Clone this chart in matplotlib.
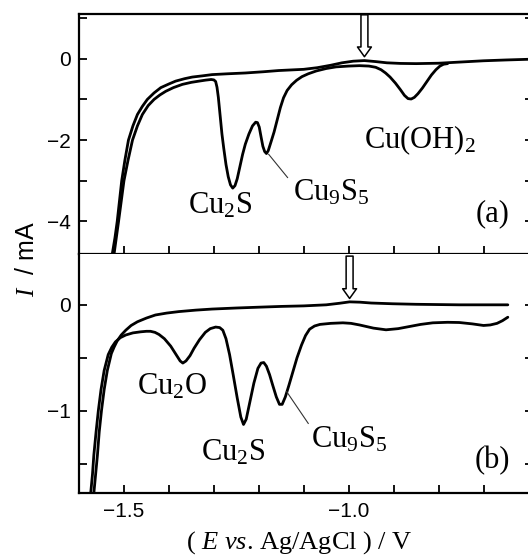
import matplotlib
matplotlib.use('Agg')
import matplotlib.pyplot as plt
from matplotlib.ticker import MultipleLocator

plt.rcParams['font.family'] = 'Liberation Serif'
plt.rcParams['mathtext.fontset'] = 'custom'
plt.rcParams['mathtext.rm'] = 'Liberation Serif'
plt.rcParams['mathtext.it'] = 'Liberation Serif:italic'

# (a) anodic return sweep and cathodic sweep with reduction peaks
E_a_ret = [-1.526, -1.520, -1.515, -1.510, -1.505, -1.498, -1.490, -1.480, -1.470,
           -1.459, -1.448, -1.433, -1.418, -1.400, -1.385, -1.365, -1.348, -1.325,
           -1.304, -1.270, -1.230, -1.190, -1.156, -1.100, -1.070, -1.040, -1.015,
           -0.990, -0.965, -0.940, -0.915, -0.885, -0.850, -0.800, -0.750, -0.700,
           -0.650, -0.590]
I_a_ret = [-4.80, -4.40, -4.00, -3.50, -3.00, -2.50, -2.00, -1.65, -1.37,
           -1.17, -1.00, -0.84, -0.71, -0.62, -0.55, -0.49, -0.45, -0.42,
           -0.39, -0.37, -0.35, -0.32, -0.29, -0.26, -0.22, -0.16, -0.10,
           -0.06, -0.045, -0.07, -0.10, -0.115, -0.12, -0.11, -0.08, -0.05,
           -0.03, -0.01]

E_a_cat = [-1.522, -1.517, -1.512, -1.506, -1.500, -1.491, -1.481, -1.470, -1.459,
           -1.446, -1.433, -1.420, -1.407, -1.390, -1.370, -1.350, -1.333, -1.318,
           -1.306, -1.300, -1.296, -1.293, -1.290, -1.286, -1.282, -1.278, -1.273,
           -1.268, -1.263, -1.258, -1.253, -1.248, -1.242, -1.236, -1.230, -1.222,
           -1.214, -1.207, -1.203, -1.199, -1.195, -1.191, -1.187, -1.183, -1.179,
           -1.173, -1.166, -1.159, -1.152, -1.145, -1.137, -1.127, -1.116, -1.104,
           -1.090, -1.072, -1.050, -1.028, -1.000, -0.976, -0.955, -0.940, -0.928,
           -0.918, -0.908, -0.896, -0.885, -0.876, -0.868, -0.861, -0.854, -0.846,
           -0.836, -0.826, -0.816, -0.806, -0.797, -0.789, -0.780]
I_a_cat = [-4.80, -4.40, -4.00, -3.50, -3.00, -2.50, -2.00, -1.65, -1.37,
           -1.15, -1.00, -0.89, -0.80, -0.71, -0.63, -0.58, -0.55, -0.525,
           -0.51, -0.52, -0.56, -0.70, -0.95, -1.40, -1.85, -2.20, -2.60,
           -2.90, -3.10, -3.18, -3.12, -2.95, -2.65, -2.35, -2.10, -1.85,
           -1.65, -1.56, -1.57, -1.68, -1.92, -2.15, -2.28, -2.33, -2.26,
           -2.05, -1.80, -1.50, -1.20, -0.96, -0.78, -0.64, -0.53, -0.44,
           -0.37, -0.30, -0.24, -0.20, -0.18, -0.17, -0.18, -0.21, -0.27,
           -0.35, -0.45, -0.60, -0.76, -0.90, -0.98, -0.99, -0.95, -0.86,
           -0.72, -0.56, -0.40, -0.27, -0.18, -0.135, -0.12]

# (b)
E_b_ret = [-1.567, -1.563, -1.559, -1.555, -1.550, -1.544, -1.537, -1.528, -1.522,
           -1.515, -1.506, -1.496, -1.484, -1.470, -1.450, -1.430, -1.405, -1.378,
           -1.340, -1.304, -1.250, -1.198, -1.150, -1.100, -1.050, -1.020, -0.998,
           -0.975, -0.950, -0.902, -0.850, -0.754, -0.700, -0.646]
I_b_ret = [-1.78, -1.60, -1.42, -1.20, -1.00, -0.80, -0.62, -0.46, -0.40,
           -0.34, -0.285, -0.24, -0.195, -0.16, -0.125, -0.096, -0.078, -0.064,
           -0.05, -0.04, -0.03, -0.022, -0.015, -0.01, 0.00, 0.015, 0.028,
           0.025, 0.017, 0.01, 0.005, 0.00, 0.00, 0.00]

E_b_cat = [-1.574, -1.570, -1.567, -1.562, -1.557, -1.551, -1.544, -1.535, -1.527,
           -1.519, -1.508, -1.496, -1.480, -1.463, -1.450, -1.441, -1.431, -1.422,
           -1.410, -1.396, -1.384, -1.375, -1.369, -1.362, -1.353, -1.344, -1.332,
           -1.319, -1.308, -1.296, -1.287, -1.280, -1.273, -1.265, -1.257, -1.248,
           -1.240, -1.234, -1.228, -1.220, -1.211, -1.202, -1.195, -1.189, -1.183,
           -1.176, -1.169, -1.161, -1.154, -1.148, -1.141, -1.133, -1.124, -1.115,
           -1.105, -1.096, -1.087, -1.076, -1.064, -1.040, -1.013, -0.995, -0.976,
           -0.945, -0.917, -0.890, -0.865, -0.840, -0.813, -0.780, -0.754, -0.725,
           -0.700, -0.685, -0.670, -0.658, -0.646]
I_b_cat = [-1.78, -1.60, -1.42, -1.20, -1.00, -0.80, -0.62, -0.47, -0.40,
           -0.35, -0.31, -0.285, -0.265, -0.255, -0.25, -0.25, -0.26, -0.28,
           -0.32, -0.39, -0.47, -0.53, -0.55, -0.53, -0.48, -0.41, -0.33,
           -0.26, -0.225, -0.21, -0.215, -0.24, -0.32, -0.47, -0.66, -0.88,
           -1.06, -1.13, -1.08, -0.92, -0.74, -0.60, -0.55, -0.545, -0.58,
           -0.66, -0.76, -0.87, -0.94, -0.94, -0.87, -0.76, -0.63, -0.50,
           -0.38, -0.29, -0.23, -0.20, -0.185, -0.175, -0.17, -0.175, -0.19,
           -0.22, -0.236, -0.225, -0.205, -0.185, -0.17, -0.165, -0.167, -0.18,
           -0.195, -0.19, -0.175, -0.15, -0.117]

# peak assignments: (label, E, I)
labels_a = [('Cu$_2$S', -1.287, -3.62), ('Cu$_9$S$_5$', -1.040, -3.30),
            ('Cu(OH)$_2$', -0.842, -2.00)]
labels_b = [('Cu$_2$O', -1.394, -0.77), ('Cu$_2$S', -1.257, -1.40),
            ('Cu$_9$S$_5$', -1.000, -1.27)]

W, H = 528, 557
fig = plt.figure(figsize=(W / 100, H / 100), dpi=100)
x0, x1 = 79, 533
ax_a = fig.add_axes([x0 / W, 1 - 254 / H, (x1 - x0) / W, 240 / H])
ax_b = fig.add_axes([x0 / W, 1 - 493.3 / H, (x1 - x0) / W, 239.3 / H])

lw = 2.0
for ax, E, I in [(ax_a, E_a_ret, I_a_ret), (ax_a, E_a_cat, I_a_cat),
                 (ax_b, E_b_ret, I_b_ret), (ax_b, E_b_cat, I_b_cat)]:
    ax.plot(E, I, color='black', lw=lw, solid_capstyle='round',
            solid_joinstyle='round')

ax_a.set_ylim(-4.8, 1.1)
ax_b.set_ylim(-1.78, 0.48)

for ax in (ax_a, ax_b):
    ax.set_xlim(-1.6, -0.59)
    ax.xaxis.set_major_locator(MultipleLocator(0.5))
    ax.xaxis.set_minor_locator(MultipleLocator(0.1))
    ax.tick_params(which='both', direction='in', length=6, width=1.3,
                   top=False, right=True, labelsize=15, pad=6)
    for sp in ax.spines.values():
        sp.set_linewidth(1.6)

ax_a.yaxis.set_minor_locator(MultipleLocator(1))
ax_a.set_yticks([0, -2, -4])
ax_a.set_yticklabels(['0', '\u22122', '\u22124'], fontfamily='Liberation Sans')
ax_a.tick_params(labelbottom=False)

ax_b.yaxis.set_minor_locator(MultipleLocator(0.5))
ax_b.set_yticks([0, -1])
ax_b.set_yticklabels(['0', '\u22121'], fontfamily='Liberation Sans')
ax_b.set_xticks([-1.5, -1.0])
ax_b.set_xticklabels(['\u22121.5', '\u22121.0'], fontfamily='Liberation Sans')
ax_b.spines['top'].set_visible(False)

fs = 22
for txt, e, i in labels_a:
    ax_a.text(e, i, txt, fontsize=fs, ha='center', va='center')
for txt, e, i in labels_b:
    ax_b.text(e, i, txt, fontsize=fs, ha='center', va='center')
ax_a.text(-0.68, -3.8, '(a)', fontsize=fs, ha='center', va='center')
ax_b.text(-0.68, -1.47, '(b)', fontsize=fs, ha='center', va='center')

# leader lines to the Cu9S5 shoulders
ax_a.plot([-1.178, -1.136], [-2.35, -2.92], color='#333333', lw=0.8)
ax_b.plot([-1.138, -1.090], [-0.82, -1.12], color='#333333', lw=0.8)

# hollow arrows marking the anodic hump
arrow = dict(arrowstyle='simple,head_length=0.7,head_width=1.0,tail_width=0.5',
             fc='white', ec='black', lw=1.1, shrinkA=0, shrinkB=0, mutation_scale=10)
ax_a.annotate('', xy=(-0.965, 0.05), xytext=(-0.965, 1.08), arrowprops=arrow)
ax_b.annotate('', xy=(-0.998, 0.06), xytext=(-0.998, 0.46), arrowprops=arrow)

fig.text(27 / W, 1 - 259 / H, r'$\it{I}$  / mA', rotation=90, fontsize=18,
         fontfamily='Liberation Sans', ha='center', va='center')
fig.text(299 / W, 1 - 543 / H, r'( $\it{E}$ $\it{vs}$. Ag/AgCl ) / V', fontsize=19,
         ha='center', va='center')

fig.savefig('out.png', dpi=100)
